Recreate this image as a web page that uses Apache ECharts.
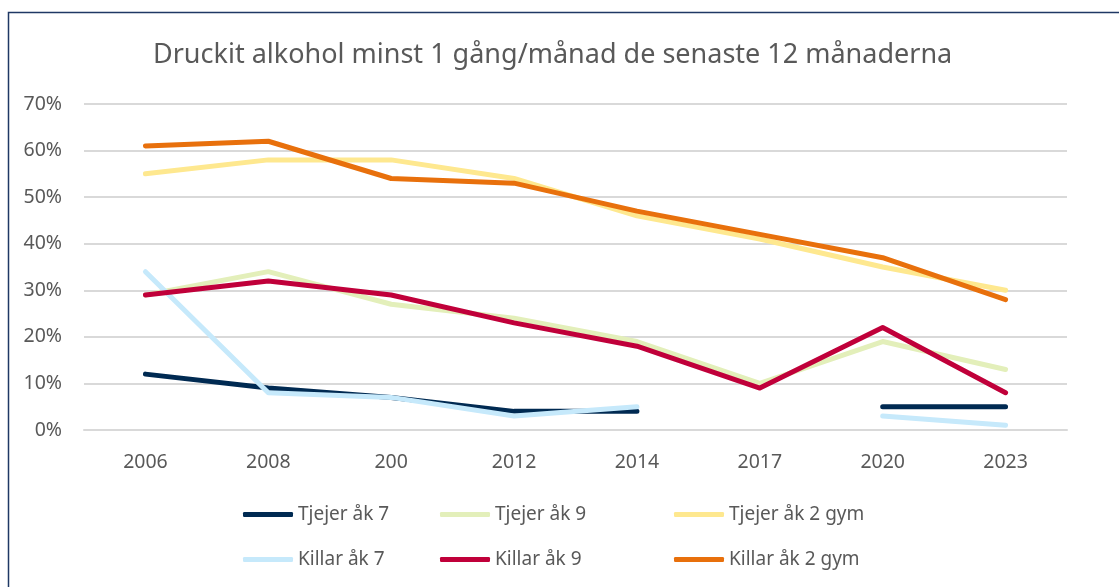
<!DOCTYPE html>
<html>
<head>
<meta charset="utf-8">
<script src="https://cdn.jsdelivr.net/npm/echarts@6/dist/echarts.min.js"></script>
<style>
  html, body { margin: 0; padding: 0; background: #fff; }
  #chart { width: 1119px; height: 587px; }
</style>
</head>
<body>
<div id="chart"></div>
<script>
  // data (percent)
  var years = ['2006', '2008', '200', '2012', '2014', '2017', '2020', '2023'];
  var yTicks = [0, 10, 20, 30, 40, 50, 60, 70];
  var tjejerAk7 = [12, 9, 7, 4, 4, null, 5, 5];
  var tjejerAk9 = [29, 34, 27, 24, 19, 10, 19, 13];
  var tjejerGym = [55, 58, 58, 54, 46, 41, 35, 30];
  var killarAk7 = [34, 8, 7, 3, 5, null, 3, 1];
  var killarAk9 = [29, 32, 29, 23, 18, 9, 22, 8];
  var killarGym = [61, 62, 54, 53, 47, 42, 37, 28];

  var names = ['Tjejer åk 7', 'Tjejer åk 9', 'Tjejer åk 2 gym', 'Killar åk 7', 'Killar åk 9', 'Killar åk 2 gym'];
  var values = [tjejerAk7, tjejerAk9, tjejerGym, killarAk7, killarAk9, killarGym];
  var colors = ['#002a52', '#e3efba', '#fee88f', '#c6e9fb', '#c0003a', '#e8700c'];

  var font = 'Noto Sans';
  var textColor = '#595959';

  var chart = echarts.init(document.getElementById('chart'));

  var series = [];
  for (var i = 0; i < names.length; i++) {
    series.push({
      name: names[i],
      type: 'line',
      data: values[i],
      showSymbol: false,
      connectNulls: false,
      lineStyle: { width: 5, color: colors[i], cap: 'round', join: 'round' },
      itemStyle: { color: colors[i] }
    });
  }

  // one legend per item so the columns sit like the original
  var legendPos = [[243, 505], [440, 505], [674, 505], [243, 550], [440, 550], [674, 550]];
  var legends = [];
  for (var j = 0; j < names.length; j++) {
    legends.push({
      data: [names[j]],
      left: legendPos[j][0],
      top: legendPos[j][1],
      padding: 0,
      icon: 'roundRect',
      itemWidth: 50,
      itemHeight: 5,
      textStyle: { fontFamily: font, fontSize: 19, color: textColor }
    });
  }

  chart.setOption({
    animation: false,
    title: {
      text: 'Druckit alkohol minst 1 gång/månad de senaste 12 månaderna',
      left: 148,
      top: 37,
      textStyle: { fontFamily: font, fontSize: 27, fontWeight: 'normal', color: textColor }
    },
    graphic: [{
      type: 'rect',
      shape: { x: 8.5, y: 12.5, width: 1300, height: 800 },
      style: { fill: 'none', stroke: '#1f3864', lineWidth: 1.5 },
      silent: true
    }],
    legend: legends,
    grid: { left: 84, right: 52, top: 104, bottom: 157 },
    xAxis: {
      type: 'category',
      data: years,
      boundaryGap: true,
      axisLine: { show: true, lineStyle: { color: '#d9d9d9', width: 2 } },
      axisTick: { show: false },
      axisLabel: { fontFamily: font, fontSize: 19.5, color: textColor, margin: 22 }
    },
    yAxis: {
      type: 'value',
      min: yTicks[0],
      max: yTicks[yTicks.length - 1],
      interval: 10,
      axisLine: { show: false },
      axisTick: { show: false },
      splitLine: { lineStyle: { color: '#d9d9d9', width: 2 } },
      axisLabel: {
        fontFamily: font, fontSize: 19.5, color: textColor, margin: 22,
        formatter: '{value}%'
      }
    },
    series: series
  });
</script>
</body>
</html>
